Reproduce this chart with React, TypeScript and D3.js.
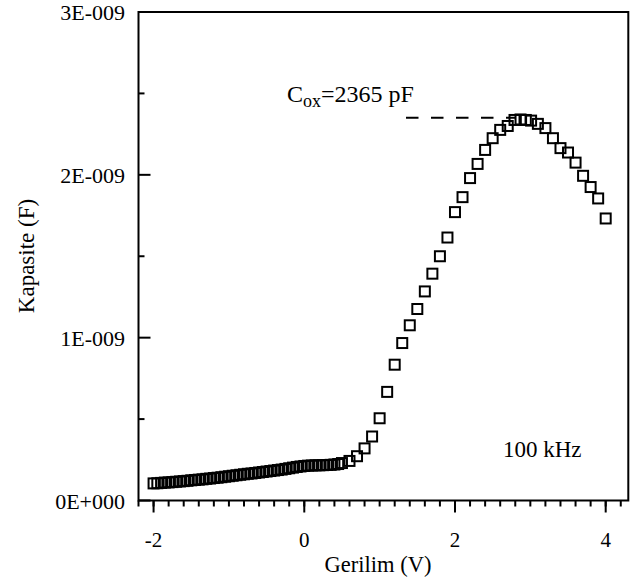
import React from 'react';
import * as d3 from 'd3';

// Gate voltage (V)
const voltage = [
  -2.00, -1.95, -1.90, -1.85, -1.80, -1.75, -1.70, -1.65, -1.60, -1.55,
  -1.50, -1.45, -1.40, -1.35, -1.30, -1.25, -1.20, -1.15, -1.10, -1.05,
  -1.00, -0.95, -0.90, -0.85, -0.80, -0.75, -0.70, -0.65, -0.60, -0.55,
  -0.50, -0.45, -0.40, -0.35, -0.30, -0.25, -0.20, -0.15, -0.10, -0.05,
  0.00, 0.05, 0.10, 0.15, 0.20, 0.25, 0.30, 0.35, 0.40, 0.45, 0.50,
  0.60, 0.70, 0.80, 0.90, 1.00, 1.10, 1.20, 1.30, 1.40, 1.50,
  1.60, 1.70, 1.80, 1.90, 2.00, 2.10, 2.20, 2.30, 2.40, 2.50,
  2.60, 2.70, 2.79, 2.87, 2.94, 3.01, 3.10, 3.20, 3.30, 3.40,
  3.50, 3.60, 3.70, 3.80, 3.90, 4.00,
];

// Capacitance (nF, i.e. x 1E-009 F)
const capacitance = [
  0.105, 0.106, 0.108, 0.110, 0.111, 0.113, 0.115, 0.117, 0.119, 0.121,
  0.124, 0.126, 0.128, 0.130, 0.133, 0.135, 0.138, 0.140, 0.143, 0.146,
  0.149, 0.152, 0.155, 0.158, 0.161, 0.164, 0.166, 0.169, 0.172, 0.175,
  0.178, 0.181, 0.184, 0.187, 0.190, 0.194, 0.198, 0.202, 0.206, 0.209,
  0.212, 0.214, 0.215, 0.216, 0.216, 0.217, 0.218, 0.219, 0.221, 0.224, 0.230,
  0.243, 0.272, 0.320, 0.393, 0.505, 0.667, 0.834, 0.967, 1.076, 1.176,
  1.284, 1.393, 1.500, 1.615, 1.771, 1.863, 1.980, 2.067, 2.153, 2.225,
  2.276, 2.300, 2.337, 2.340, 2.337, 2.333, 2.313, 2.287, 2.225, 2.164,
  2.137, 2.075, 1.994, 1.925, 1.855, 1.732,
];

const xMajorTicks = [-2, 0, 2, 4];
const xTickLabels = ['-2', '0', '2', '4'];
const yMajorTicks = [0, 1, 2, 3];
const yTickLabels = ['0E+000', '1E-009', '2E-009', '3E-009'];
const yMinorTicks = [0.5, 1.5, 2.5];

const coxLineX = [1.35, 2.8];
const coxLineY = 2.35;

const FONT = "'Liberation Serif', 'Times New Roman', serif";

export default function App() {
  const x = d3.scaleLinear().domain([-2.2, 4.3]).range([138.5, 628.3]);
  const y = d3.scaleLinear().domain([0, 3]).range([500.5, 12]);
  const xMinorTicks = d3.range(-2.2, 4.21, 0.2).map((v) => Math.round(v * 10) / 10);
  const [x0, x1] = x.range();
  const [y0, y1] = y.range();
  const pts = voltage.map((v, i) => [x(v), y(capacitance[i])]);
  const s = 10;

  return (
    <svg
      width={635}
      height={584}
      style={{ position: 'absolute', left: 0, top: 0, background: '#fff' }}
      fontFamily={FONT}
    >
      <rect x={0} y={0} width={635} height={584} fill="#fff" />
      {/* frame */}
      <rect x={x0} y={y1} width={x1 - x0} height={y0 - y1} fill="none" stroke="#000" strokeWidth={2} />
      {/* x ticks (outside) */}
      {xMinorTicks.map((t) => (
        <line key={'xm' + t} x1={x(t)} x2={x(t)} y1={y0} y2={y0 + 6} stroke="#000" strokeWidth={2} />
      ))}
      {xMajorTicks.map((t, i) => (
        <g key={'xM' + t}>
          <line x1={x(t)} x2={x(t)} y1={y0} y2={y0 + 12} stroke="#000" strokeWidth={2} />
          <text x={x(t)} y={547} textAnchor="middle" fontSize={21} fill="#000">
            {xTickLabels[i]}
          </text>
        </g>
      ))}
      {/* y ticks (inside) */}
      {yMinorTicks.map((t) => (
        <line key={'ym' + t} x1={x0} x2={x0 + 6} y1={y(t)} y2={y(t)} stroke="#000" strokeWidth={2} />
      ))}
      {yMajorTicks.map((t, i) => (
        <g key={'yM' + t}>
          <line x1={x0} x2={x0 + 12} y1={y(t)} y2={y(t)} stroke="#000" strokeWidth={2} />
          <text x={125} y={y(t) + 8} textAnchor="end" fontSize={22} fill="#000">
            {yTickLabels[i]}
          </text>
        </g>
      ))}
      {/* axis titles */}
      <text x={378} y={572} textAnchor="middle" fontSize={22.5} fill="#000">
        Gerilim (V)
      </text>
      <text
        transform={`translate(34,256) rotate(-90)`}
        textAnchor="middle"
        fontSize={23}
        fill="#000"
      >
        Kapasite (F)
      </text>
      {/* Cox dashed line */}
      <line
        x1={x(coxLineX[0])}
        x2={x(coxLineX[1])}
        y1={y(coxLineY)}
        y2={y(coxLineY)}
        stroke="#000"
        strokeWidth={2}
        strokeDasharray="12.5,12.5"
      />
      <text x={287} y={102} fontSize={24} fill="#000">
        C<tspan fontSize={18} dy={5}>ox</tspan>
        <tspan dy={-5}>=2365 pF</tspan>
      </text>
      <text x={503} y={457} fontSize={23} fill="#000">
        100 kHz
      </text>
      {/* markers */}
      {pts.map(([px, py], i) => (
        <rect
          key={'p' + i}
          x={px - s / 2}
          y={py - s / 2}
          width={s}
          height={s}
          fill="none"
          stroke="#000"
          strokeWidth={2}
        />
      ))}
    </svg>
  );
}
